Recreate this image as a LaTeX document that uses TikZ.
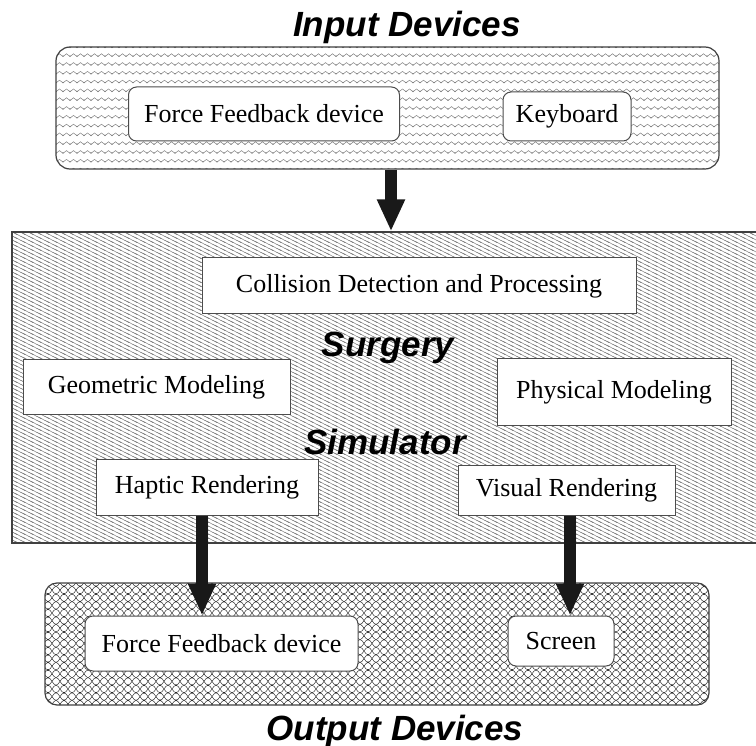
\documentclass[tikz,border=0pt]{standalone}
\usepackage{fontspec}
\setmainfont{Liberation Serif}
\newfontfamily\titlefont{Liberation Sans}
\usetikzlibrary{patterns,arrows.meta,calc}

\pgfdeclarepatternformonly{zigzagrows}{\pgfqpoint{-1pt}{-1pt}}{\pgfqpoint{8pt}{9.8pt}}{\pgfqpoint{7pt}{8.8pt}}{%
  \pgfsetlinewidth{0.5pt}%
  \pgfpathmoveto{\pgfqpoint{-3.5pt}{5.8pt}}%
  \pgfpathlineto{\pgfqpoint{0pt}{3.1pt}}%
  \pgfpathlineto{\pgfqpoint{3.5pt}{5.8pt}}%
  \pgfpathlineto{\pgfqpoint{7pt}{3.1pt}}%
  \pgfpathlineto{\pgfqpoint{10.5pt}{5.8pt}}%
  \pgfusepath{stroke}}

\pgfdeclarepatternformonly{diaglines}{\pgfqpoint{-1pt}{-1pt}}{\pgfqpoint{9pt}{5pt}}{\pgfqpoint{8pt}{4pt}}{%
  \pgfsetlinewidth{0.45pt}%
  \pgfpathmoveto{\pgfqpoint{-1pt}{4.5pt}}\pgfpathlineto{\pgfqpoint{9pt}{-0.5pt}}%
  \pgfpathmoveto{\pgfqpoint{-1pt}{8.5pt}}\pgfpathlineto{\pgfqpoint{9pt}{3.5pt}}%
  \pgfpathmoveto{\pgfqpoint{-1pt}{0.5pt}}\pgfpathlineto{\pgfqpoint{9pt}{-4.5pt}}%
  \pgfusepath{stroke}}

\pgfdeclarepatternformonly{fishnet}{\pgfqpoint{-1pt}{-1pt}}{\pgfqpoint{17pt}{8.6pt}}{\pgfqpoint{16pt}{7.6pt}}{%
  \pgfsetlinewidth{0.45pt}%
  \pgfpathmoveto{\pgfqpoint{-8pt}{0pt}}%
  \pgfpathcurveto{\pgfqpoint{-5.09pt}{0pt}}{\pgfqpoint{-2.91pt}{7.6pt}}{\pgfqpoint{0pt}{7.6pt}}%
  \pgfpathcurveto{\pgfqpoint{2.91pt}{7.6pt}}{\pgfqpoint{5.09pt}{0pt}}{\pgfqpoint{8pt}{0pt}}%
  \pgfpathcurveto{\pgfqpoint{10.91pt}{0pt}}{\pgfqpoint{13.09pt}{7.6pt}}{\pgfqpoint{16pt}{7.6pt}}%
  \pgfpathcurveto{\pgfqpoint{18.91pt}{7.6pt}}{\pgfqpoint{21.09pt}{0pt}}{\pgfqpoint{24pt}{0pt}}%
  \pgfpathmoveto{\pgfqpoint{-8pt}{7.6pt}}%
  \pgfpathcurveto{\pgfqpoint{-5.09pt}{7.6pt}}{\pgfqpoint{-2.91pt}{0pt}}{\pgfqpoint{0pt}{0pt}}%
  \pgfpathcurveto{\pgfqpoint{2.91pt}{0pt}}{\pgfqpoint{5.09pt}{7.6pt}}{\pgfqpoint{8pt}{7.6pt}}%
  \pgfpathcurveto{\pgfqpoint{10.91pt}{7.6pt}}{\pgfqpoint{13.09pt}{0pt}}{\pgfqpoint{16pt}{0pt}}%
  \pgfpathcurveto{\pgfqpoint{18.91pt}{0pt}}{\pgfqpoint{21.09pt}{7.6pt}}{\pgfqpoint{24pt}{7.6pt}}%
  \pgfusepath{stroke}}

\begin{document}
\begin{tikzpicture}[x=1pt,y=-1pt,
  bigbox/.style={draw=black!75, line width=1.2pt, inner sep=0pt},
  rbox/.style={draw=black!70, line width=1pt, fill=white, rounded corners=8pt, inner sep=0pt, font=\fontsize{26}{30}\selectfont},
  sbox/.style={draw=black!70, line width=1pt, fill=white, inner sep=0pt, font=\fontsize{26}{30}\selectfont},
  ttl/.style={font=\titlefont\bfseries\itshape\fontsize{35}{40}\selectfont, anchor=base, inner sep=0pt, text=black},
  bigarrow/.style={line width=12pt, draw=black!90, -{Triangle[width=26pt,length=32pt]}}]
\useasboundingbox (0,0) rectangle (756,746);

% containers
\node[bigbox, rounded corners=14pt, pattern=zigzagrows, pattern color=black!50,
      minimum width=663pt, minimum height=122pt] (input) at (387.5,108) {};
\node[bigbox, pattern=diaglines, pattern color=black!50,
      minimum width=750pt, minimum height=311pt] (sim) at (387,387.5) {};
\node[bigbox, rounded corners=12pt, pattern=fishnet, pattern color=black!85,
      minimum width=664pt, minimum height=122pt] (output) at (377,644) {};

% input devices
\node[rbox, minimum width=271pt, minimum height=54pt] (ffin) at (264,114) {Force Feedback device};
\node[rbox, minimum width=128pt, minimum height=49pt] (kbd) at (567,116.5) {Keyboard};

% simulator modules
\node[sbox, minimum width=434pt, minimum height=56pt] (coll) at (419,286) {Collision Detection and Processing};
\node[sbox, minimum width=267pt, minimum height=55pt] (geo) at (156.5,387.5) {Geometric Modeling};
\node[sbox, minimum width=234pt, minimum height=67pt] (phys) at (614,392.5) {Physical Modeling};
\node[sbox, minimum width=222pt, minimum height=56pt] (hap) at (207,487) {Haptic Rendering};
\node[sbox, minimum width=217pt, minimum height=50pt] (vis) at (566.5,490) {Visual Rendering};

% output devices
\node[rbox, minimum width=273pt, minimum height=55pt] (ffout) at (221.5,643.5) {Force Feedback device};
\node[rbox, minimum width=106pt, minimum height=50pt] (scr) at (561,641) {Screen};

% titles
\node[ttl] (tin) at (407,37) {Input Devices};
\node[ttl] (tsurg) at (388,357) {Surgery};
\node[ttl] (tsim) at (385,454) {Simulator};
\node[ttl] (tout) at (395,740) {Output Devices};

% arrows
\coordinate (a1) at ([xshift=3.5pt]input.south);
\coordinate (a2) at ([xshift=-5pt]hap.south);
\coordinate (a3) at ([xshift=3.5pt]vis.south);
\draw[bigarrow] (a1) -- (a1 |- sim.north);
\draw[bigarrow] (a2) -- (a2 |- ffout.north);
\draw[bigarrow] (a3) -- (a3 |- scr.north);
\end{tikzpicture}
\end{document}
